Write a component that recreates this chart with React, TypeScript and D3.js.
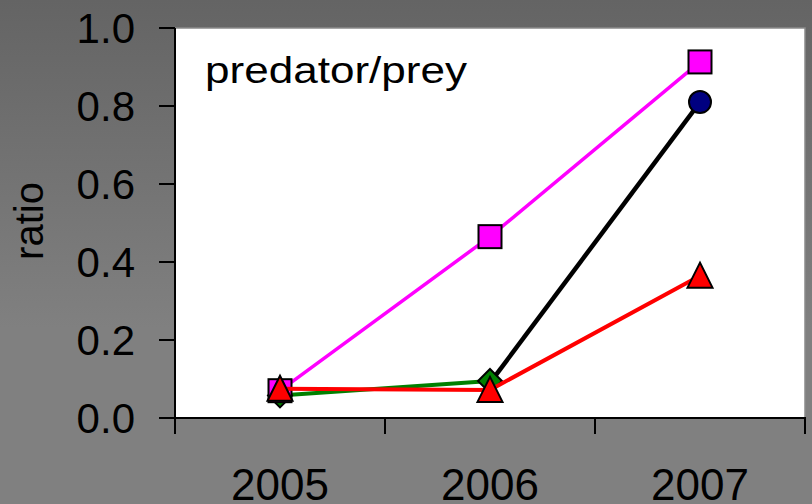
import React from "react";
import * as d3 from "d3";

const years = ["2005", "2006", "2007"];
const yTicks = [0, 0.2, 0.4, 0.6, 0.8, 1.0];
const magenta = [0.07, 0.465, 0.913];
const black = [null, 0.09, 0.81];
const green = [0.058, 0.095, null];
const red = [0.075, 0.072, 0.365];

const W = 812, H = 504;
const L = 175, R = 805, T = 28, B = 418;

export default function App() {
  const x = d3.scaleBand<string>().domain(years).range([L, R]);
  const cx = (i: number) => (x(years[i]) as number) + x.bandwidth() / 2;
  const y = d3.scaleLinear().domain([0, 1]).range([B, T]);
  const line = d3
    .line<number | null>()
    .defined((d) => d != null)
    .x((_, i) => cx(i))
    .y((d) => y(d as number));

  const font = "'Liberation Sans', Arial, sans-serif";
  const pts = (arr: (number | null)[]) =>
    arr.map((v, i) => ({ v, i })).filter((p) => p.v != null) as { v: number; i: number }[];

  return (
    <svg width={W} height={H} style={{ position: "absolute", left: 0, top: 0 }}>
      <defs>
        <linearGradient id="bg" x1="0" y1="0" x2="0" y2="1">
          <stop offset="0" stopColor="#646464" />
          <stop offset="0.65" stopColor="#808080" />
          <stop offset="1" stopColor="#808080" />
        </linearGradient>
      </defs>
      <rect x={0} y={0} width={W} height={H} fill="url(#bg)" />
      <rect x={L} y={T} width={R - L} height={B - T} fill="#ffffff" stroke="#8a8a8a" strokeWidth={1.5} />

      {/* series: black, green, magenta, red */}
      <path d={line(black) || ""} fill="none" stroke="#000000" strokeWidth={4.5} />
      {pts(black).filter((p) => p.i === 2).map((p) => (
        <circle key={"b" + p.i} cx={cx(p.i)} cy={y(p.v)} r={11} fill="#000080" stroke="#000" strokeWidth={2} />
      ))}
      <path d={line(green) || ""} fill="none" stroke="#008000" strokeWidth={4} />
      {pts(green).map((p) => {
        const px = cx(p.i), py = y(p.v), s = 12;
        return (
          <path key={"g" + p.i} d={`M${px},${py - s}L${px + s},${py}L${px},${py + s}L${px - s},${py}Z`} fill="#008000" stroke="#000" strokeWidth={2} />
        );
      })}
      <path d={line(magenta) || ""} fill="none" stroke="#ff00ff" strokeWidth={3.5} />
      {pts(magenta).map((p) => (
        <rect key={"m" + p.i} x={cx(p.i) - 11.5} y={y(p.v) - 11.5} width={23} height={23} fill="#ff00ff" stroke="#000" strokeWidth={2} />
      ))}
      <path d={line(red) || ""} fill="none" stroke="#ff0000" strokeWidth={4} />
      {pts(red).map((p) => {
        const px = cx(p.i), py = y(p.v);
        return (
          <path key={"r" + p.i} d={`M${px},${py - 13}L${px + 12.5},${py + 12}L${px - 12.5},${py + 12}Z`} fill="#ff0000" stroke="#000" strokeWidth={2} strokeLinejoin="miter" />
        );
      })}

      {/* axes */}
      <line x1={L} y1={T} x2={L} y2={B + 16} stroke="#000" strokeWidth={2} />
      <line x1={L - 16} y1={B} x2={R + 1} y2={B} stroke="#000" strokeWidth={2} />
      {yTicks.map((t) => (
        <g key={"yt" + t}>
          <line x1={L - 16} y1={y(t)} x2={L} y2={y(t)} stroke="#000" strokeWidth={2} />
          <text x={135} y={y(t) + 14.5} textAnchor="end" fontFamily={font} fontSize={42} fill="#000">
            {t.toFixed(1)}
          </text>
        </g>
      ))}
      {d3.range(years.length + 1).map((i) => {
        const xx = i < years.length ? (x(years[i]) as number) : R;
        return <line key={"xt" + i} x1={xx} y1={B} x2={xx} y2={B + 16} stroke="#000" strokeWidth={2} />;
      })}
      {years.map((yr, i) => (
        <text key={yr} x={cx(i)} y={500} textAnchor="middle" fontFamily={font} fontSize={44} fill="#000">
          {yr}
        </text>
      ))}
      <text transform="translate(43,221) rotate(-90)" textAnchor="middle" fontFamily={font} fontSize={40} fill="#000">
        ratio
      </text>
      <text x={205} y={82.5} fontFamily={font} fontSize={37} textLength={262} lengthAdjust="spacingAndGlyphs" fill="#000">
        predator/prey
      </text>
    </svg>
  );
}
